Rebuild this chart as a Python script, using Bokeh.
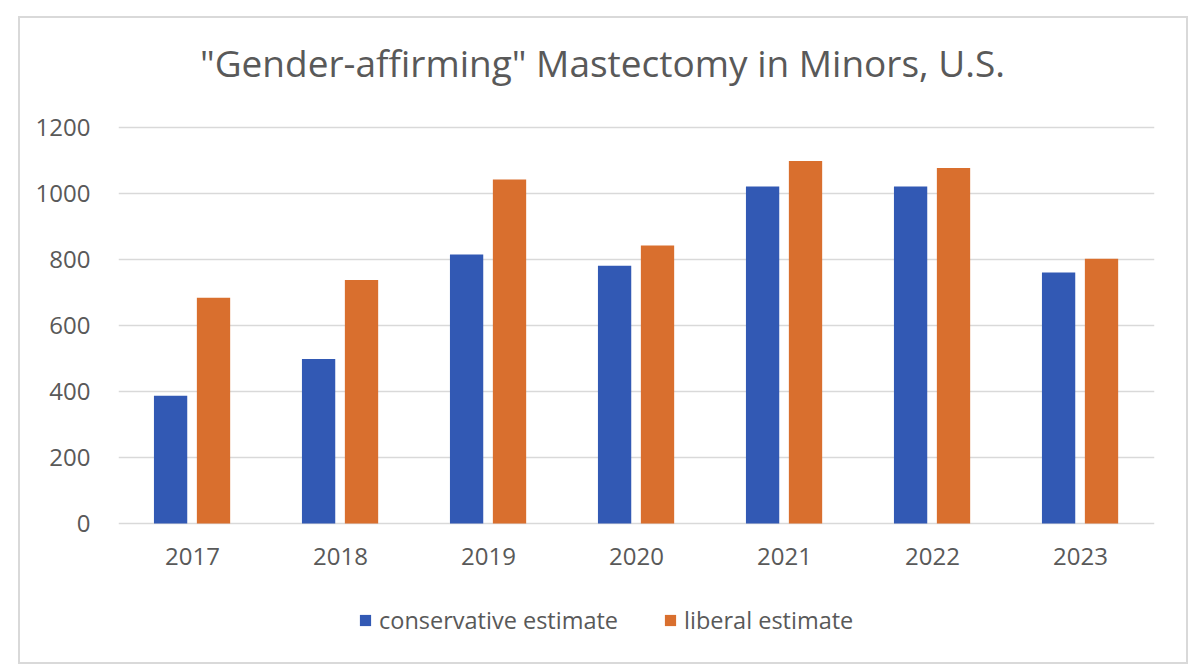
from bokeh.plotting import figure
from bokeh.models import ColumnDataSource, FactorRange, Range1d, Legend, LegendItem, FixedTicker
from bokeh.transform import dodge
from bokeh.core.properties import value
from bokeh.embed import file_html
from bokeh.resources import INLINE

years = ["2017", "2018", "2019", "2020", "2021", "2022", "2023"]
conservative = [387, 498, 815, 781, 1021, 1021, 760]
liberal = [684, 738, 1042, 842, 1098, 1077, 802]
series_names = ["conservative estimate", "liberal estimate"]
y_ticks = [0, 200, 400, 600, 800, 1000, 1200]
title_text = '"Gender-affirming" Mastectomy in Minors, U.S.'

BLUE = "#3259b4"
ORANGE = "#d96f2e"
TXT = "#595959"
GRID = "#d9d9d9"
FONT = "Open Sans"
LABEL_Y = -100   # data position of the category labels under the zero line
TITLE_Y = 1396   # data position of the title baseline above the plot

source = ColumnDataSource(dict(year=years, cons=conservative, lib=liberal,
                               label_y=[LABEL_Y] * len(years)))
title_src = ColumnDataSource(dict(x=["2020"], y=[TITLE_Y], text=[title_text]))

p = figure(
    x_range=FactorRange(*years, range_padding=0),
    y_range=Range1d(-385, 1530),
    width=1166, height=644,
    output_backend="svg", toolbar_location=None,
    min_border_left=98, min_border_right=32, min_border_top=0, min_border_bottom=12,
    styles={"outline": "2px solid #d9d9d9", "margin-left": "20px", "margin-top": "18px"},
)
p.outline_line_color = None

r1 = p.vbar(x=dodge("year", -0.148, range=p.x_range), top="cons", width=0.225,
            source=source, fill_color=BLUE, line_color=None)
r2 = p.vbar(x=dodge("year", 0.142, range=p.x_range), top="lib", width=0.225,
            source=source, fill_color=ORANGE, line_color=None)

p.text(x="year", y="label_y", text="year", source=source,
       text_font=value(FONT), text_font_size="24px", text_color=TXT,
       text_align="center", text_baseline="middle")

p.text(x=dodge("x", -0.23, range=p.x_range), y="y", text="text", source=title_src,
       text_font=value(FONT), text_font_size="37px", text_color=TXT,
       text_align="center", text_baseline="alphabetic")

p.yaxis.ticker = FixedTicker(ticks=y_ticks)
p.yaxis.axis_line_color = None
p.yaxis.major_tick_line_color = None
p.yaxis.minor_tick_line_color = None
p.yaxis.major_label_text_font = FONT
p.yaxis.major_label_text_font_size = "24px"
p.yaxis.major_label_text_color = TXT
p.yaxis.major_label_standoff = 22

p.xaxis.visible = False
p.xgrid.grid_line_color = None
p.ygrid.ticker = FixedTicker(ticks=y_ticks)
p.ygrid.grid_line_color = GRID
p.ygrid.grid_line_width = 1.6

legend = Legend(items=[LegendItem(label=series_names[0], renderers=[r1]),
                       LegendItem(label=series_names[1], renderers=[r2])],
                orientation="horizontal", location=(240, 14))
legend.label_text_font = FONT
legend.label_text_font_size = "23.5px"
legend.label_text_color = TXT
legend.glyph_width = 14
legend.glyph_height = 14
legend.label_height = 14
legend.label_standoff = 7
legend.spacing = 45
legend.padding = 0
legend.margin = 0
legend.border_line_color = None
legend.background_fill_alpha = 0
p.add_layout(legend)

open("out.html", "w").write(file_html(p, INLINE))
